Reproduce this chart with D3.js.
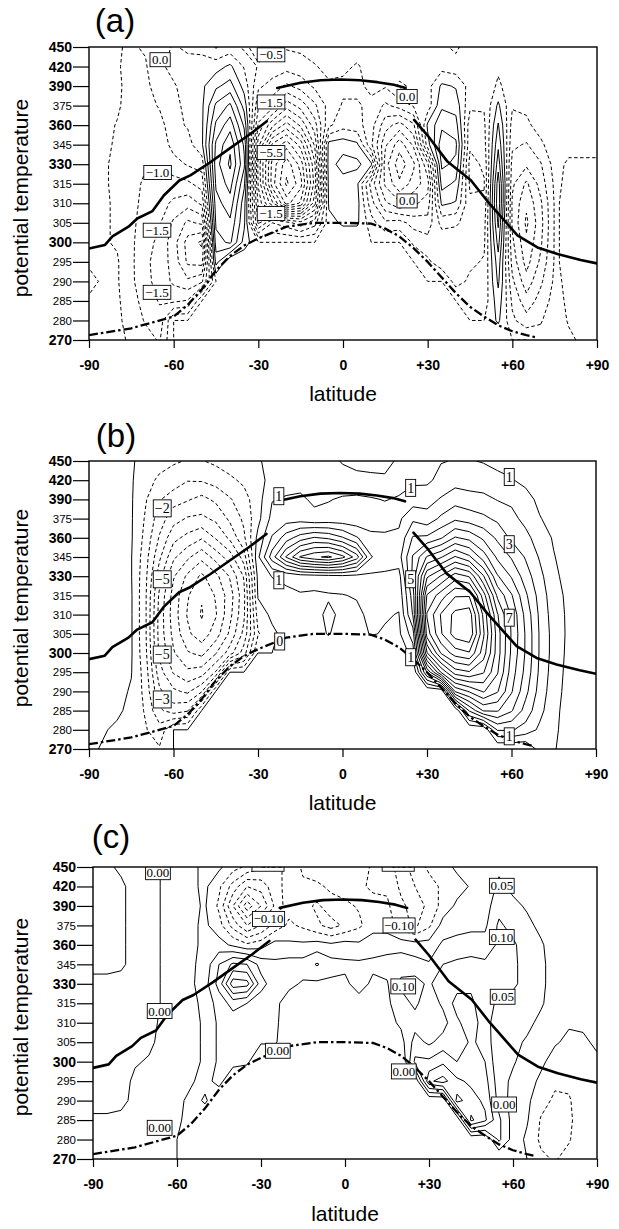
<!DOCTYPE html>
<html>
<head>
<meta charset="utf-8">
<script src="https://cdn.jsdelivr.net/npm/d3@7/dist/d3.min.js"></script>
<style>
  body { margin: 0; background: #fff; }
  svg { display: block; }
</style>
</head>
<body>
<svg id="fig" width="619" height="1229"></svg>
<script>
// === Axes ===
const levels = [270, 280, 285, 290, 295, 300, 305, 310, 315, 330, 345, 360, 375, 390, 420, 450];
const boldLevels = [270, 300, 330, 360, 390, 420, 450];
const lats = [-90, -85, -80, -75, -70, -65, -60, -55, -50, -45, -40, -35, -30, -25, -20, -15, -10, -5,
  0, 5, 10, 15, 20, 25, 30, 35, 40, 45, 50, 55, 60, 65, 70, 75, 80, 85, 90];
const latTicks = [-90, -60, -30, 0, 30, 60, 90];
const latTickText = ["-90", "-60", "-30", "0", "+30", "+60", "+90"];

// === Reference lines (same in all panels) ===
const tropoSouthLat = [-90, -84.4, -81.7, -76, -72.9, -67.5, -63.5, -58, -54.1, -47, -40, -33, -27];
const tropoSouthTh  = [298.4, 299.3, 301.5, 304, 306.1, 308, 312, 317.5, 321.4, 331.5, 342.3, 353, 363];
const tropoMidLat = [-23.3, -15, -7.9, -0.8, 6, 12.2, 18, 22.2];
const tropoMidTh  = [388.5, 395, 399, 400, 399, 396, 392, 388.5];
const tropoNorthLat = [25.2, 30, 37, 45.3, 51.2, 61.8, 68.9, 76, 84.2, 90];
const tropoNorthTh  = [364, 352, 332, 317.7, 310.5, 301.8, 298.7, 297, 295.5, 294.6];
const surfLat = [-90, -75, -60, -55, -50, -45, -40, -35, -30, -20, -10, 0, 10, 15, 20, 25, 30, 35, 40, 45, 50, 55, 60, 65, 68];
const surfTh  = [272.5, 276, 281, 284, 288, 292.8, 296.5, 299.2, 301, 304, 305, 305, 304.8, 303.5, 301.5, 298.5,
  295, 291, 287, 283.5, 281, 277.5, 274.5, 272.5, 271.5];

// === Fields: one column per latitude, values from 270 K (first) up to 450 K (last); 0 under ground ===
const fieldA = [
  [-0.3,-0.35,-0.45,-0.6,-0.45,-0.45,-0.4,-0.4,-0.4,-0.4,-0.35,-0.35,-0.35,-0.35,-0.3,-0.3],
  [-0.3,-0.35,-0.4,-0.45,-0.45,-0.45,-0.45,-0.45,-0.45,-0.45,-0.4,-0.4,-0.4,-0.4,-0.35,-0.35],
  [-0.35,-0.4,-0.42,-0.45,-0.45,-0.55,-0.55,-0.55,-0.58,-0.58,-0.56,-0.52,-0.45,-0.45,-0.47,-0.47],
  [-0.6,-0.7,-0.8,-0.9,-0.9,-0.9,-0.85,-0.8,-0.8,-0.75,-0.7,-0.7,-0.65,-0.6,-0.6,-0.55],
  [-0.8,-1.05,-1.2,-1.35,-1.4,-1.35,-1.3,-1.2,-1.1,-0.95,-0.9,-0.8,-0.7,-0.6,-0.55,-0.45],
  [-1.05,-1.3,-1.55,-1.7,-1.7,-1.6,-1.45,-1.3,-1.15,-0.95,-0.85,-0.7,-0.45,-0.3,-0.1,-0.2],
  [0,0,-1.6,-2.1,-2.2,-2.3,-2.1,-1.6,-1.2,-0.7,-0.3,-0.15,-0.1,-0.05,0.15,0.05],
  [0,0,-1.45,-2.4,-3.1,-3.2,-2.6,-1.8,-1.1,-0.45,-0.2,0.05,0.1,0.2,0.2,-0.1],
  [0,0,0,-2.1,-3.2,-3.6,-2.4,-1.4,-0.8,-0.3,0.4,0.4,0.4,0.4,0.3,-0.2],
  [0,0,0,0,1.2,1.8,2.1,2.3,2.6,2.8,2.6,2.1,1.6,0.9,0.3,-0.55],
  [0,0,0,0,0,2.1,2.4,2.8,3.2,3.6,3.4,2.8,2.1,1.2,0.6,-0.3],
  [0,0,0,0,0,0.8,1.1,1.2,1.6,2.1,1.9,1.4,0.8,0.3,-0.05,-0.6],
  [0,0,0,0,0,0,-2.1,-2.6,-3.1,-3.2,-2.8,-2.1,-1.4,-0.9,-0.55,-0.3],
  [0,0,0,0,0,0,-1.0,-4.4,-5.8,-5.7,-5.1,-3.4,-1.8,-1.2,-0.7,-0.4],
  [0,0,0,0,0,0,-1.3,-6.2,-7.1,-6.8,-5.8,-4.2,-2.8,-1.6,-0.8,-0.45],
  [0,0,0,0,0,0,-1.8,-5.4,-6.2,-5.8,-4.8,-3.4,-2.3,-1.3,-0.7,-0.4],
  [0,0,0,0,0,0,-1.2,-3.2,-3.8,-3.6,-2.9,-2.2,-1.6,-0.9,-0.55,-0.2],
  [0,0,0,0,0,0,0.3,0.6,0.7,0.8,0.7,-0.6,-0.8,-0.6,-0.3,-0.1],
  [0,0,0,0,0,0,0.6,0.7,0.8,1.2,0.8,-0.2,-0.45,-0.6,-0.4,-0.2],
  [0,0,0,0,0,0,0.6,0.7,0.6,1.15,0.6,-0.3,-0.45,-0.6,-0.55,-0.3],
  [0,0,0,0,0,0,-0.3,-0.8,-1.2,0.6,-0.9,-0.8,-0.6,-0.4,-0.3,-0.2],
  [0,0,0,0,0,0,-0.9,-1.9,-2.6,-2.8,-2.4,-1.8,-1.1,-0.45,-0.3,-0.2],
  [0,0,0,0,0,0,-0.8,-2.4,-3.4,-3.8,-3.3,-2.2,-0.8,0.1,-0.3,-0.3],
  [0,0,0,0,0,-0.6,-1.2,-2.1,-2.8,-3.1,-2.4,-1.6,-0.45,-0.1,-0.1,-0.2],
  [0,0,0,0,-0.4,-0.8,-1.3,-1.8,-2.2,-1.6,0.3,0.6,-0.3,-0.2,-0.05,-0.1],
  [0,0,0,0,-0.8,-0.9,-0.3,0.6,1.2,1.6,1.8,1.4,0.9,0.6,-0.2,-0.4],
  [0,0,0,-0.7,-0.9,-0.9,-0.4,0.45,0.9,1.4,1.6,1.2,0.8,0.45,-0.3,-0.6],
  [0,0,-0.3,-0.4,-0.6,-0.6,-0.8,-0.9,-1.1,-1.2,-0.9,-0.8,-0.4,-0.2,-0.1,-0.2],
  [0,0,-0.3,-0.4,-0.45,-0.6,-0.7,-0.9,-1.05,-0.9,-0.7,-0.6,-0.45,-0.4,-0.3,-0.3],
  [0,0.6,0.8,1.1,1.3,1.7,2.1,2.4,2.3,1.8,1.4,1.05,0.6,0.1,-0.1,-0.2],
  [0,-0.4,-0.6,-0.9,-1.2,-1.4,-1.6,-1.6,-1.4,-1.2,-0.9,-0.7,-0.45,-0.3,-0.2,-0.3],
  [0,-0.8,-1.3,-1.8,-2.2,-2.4,-2.6,-2.4,-2.1,-1.4,-1.05,-0.6,-0.4,-0.3,-0.2,-0.1],
  [-0.3,-0.55,-0.8,-1.1,-1.4,-1.6,-1.7,-1.6,-1.3,-1.05,-0.6,-0.3,-0.2,-0.1,-0.1,-0.05],
  [-0.1,-0.2,-0.3,-0.4,-0.45,-0.45,-0.45,-0.45,-0.4,-0.3,-0.2,-0.2,-0.2,-0.2,-0.15,-0.1],
  [-0.4,-0.55,-0.6,-0.6,-0.6,-0.6,-0.6,-0.6,-0.6,-0.6,-0.3,-0.2,-0.2,-0.2,-0.2,-0.2],
  [-0.6,-0.6,-0.6,-0.6,-0.6,-0.6,-0.6,-0.6,-0.6,-0.6,-0.3,-0.2,-0.2,-0.2,-0.2,-0.2],
  [-0.6,-0.6,-0.6,-0.6,-0.6,-0.6,-0.6,-0.6,-0.6,-0.6,-0.3,-0.2,-0.2,-0.2,-0.2,-0.2]
];

const fieldB = [
  [0.2,0.2,0.3,0.3,0.3,0.3,0.3,0.3,0.3,0.3,0.3,0.3,0.3,0.3,0.3,0.3],
  [-0.1,0.1,0.3,0.3,0.3,0.3,0.3,0.3,0.3,0.3,0.3,0.3,0.3,0.3,0.3,0.3],
  [-0.3,-0.2,0.2,0.3,0.3,0.3,0.3,0.3,0.3,0.3,0.3,0.3,0.3,0.3,0.3,0.3],
  [-0.5,-0.5,-0.3,-0.1,0.05,0.1,0.1,0.1,0.1,0.05,0.05,0.1,0.1,0.1,0.1,0.1],
  [-0.6,-0.9,-1.1,-1.3,-1.45,-1.7,-1.8,-1.8,-1.8,-1.7,-1.55,-1.3,-1.1,-0.9,-0.6,-0.3],
  [-0.9,-1.6,-2.8,-3.8,-4.6,-5.2,-5.4,-5.4,-5.2,-4.6,-3.8,-3.1,-2.5,-1.9,-1.2,-0.6],
  [0,0,-3.5,-4.8,-6.1,-6.9,-7.3,-7.5,-7.4,-6.9,-5.8,-4.7,-3.6,-2.6,-1.4,-0.9],
  [0,0,-3.1,-5.2,-6.8,-7.9,-8.8,-9.1,-8.9,-8.2,-6.8,-5.3,-4.1,-2.9,-1.95,-1.05],
  [0,0,0,-4.1,-6.5,-8.3,-9.6,-10.1,-9.9,-9.2,-7.7,-5.9,-4.2,-3.3,-1.9,-1.05],
  [0,0,0,0,-4.9,-7.1,-8.5,-9.1,-8.9,-8.3,-6.6,-4.9,-3.8,-2.8,-1.6,-0.8],
  [0,0,0,0,0,-5.5,-6.8,-7.3,-7.5,-6.9,-5.5,-3.8,-2.8,-2.1,-1.2,-0.5],
  [0,0,0,0,0,-3.5,-4.7,-5.2,-5.3,-4.9,-3.5,-2.2,-1.8,-1.4,-0.8,-0.3],
  [0,0,0,0,0,0,-1.1,-0.5,0.1,0.3,0.8,0.3,-0.3,-0.4,-0.3,-0.1],
  [0,0,0,0,0,0,-0.2,0.2,0.3,1.05,3.5,2.1,1.3,0.95,0.3,0.3],
  [0,0,0,0,0,0,0.3,0.6,0.8,1.2,6.1,3.5,1.5,1.1,0.6,0.5],
  [0,0,0,0,0,0,0.5,0.7,0.9,1.5,8.1,4.5,1.5,1.1,0.8,0.6],
  [0,0,0,0,0,0,0.4,0.7,0.8,1.6,8.8,5.1,1.15,0.9,0.8,0.6],
  [0,0,0,0,0,0,1.1,1.2,0.9,1.7,9.2,4.8,1.3,0.95,0.7,0.4],
  [0,0,0,0,0,0,0.4,0.8,0.95,1.8,8.3,4.1,1.3,1.1,0.5,-0.1],
  [0,0,0,0,0,0,0.3,0.7,1.1,1.7,6.5,3.1,1.3,1.2,0.3,-0.3],
  [0,0,0,0,0,0,1.1,1.3,1.2,1.8,3.1,2.3,1.4,1.1,0.2,-0.3],
  [0,0,0,0,0,0,0.9,1.1,1.2,1.9,2.3,2.2,1.5,0.95,0.1,-0.2],
  [0,0,0,0,0,0,0.8,0.95,1.3,1.6,2.6,2.2,1.8,1.1,0.6,0.1],
  [0,0,0,0,0,1.5,2.5,4.1,4.5,5.3,5.1,4.1,2.8,1.5,0.8,0.6],
  [0,0,0,0,5.1,9.9,12.5,13.1,12.1,9.8,7.1,4.2,2.4,1.6,0.8,0.5],
  [0,0,0,0,9.1,13.1,14.9,15.1,13.5,11.1,7.9,4.9,3.2,2.1,1.3,0.95],
  [0,0,0,7.1,11.5,14.5,16.5,16.3,14.9,12.5,9.1,6.1,3.8,2.6,1.6,1.05],
  [0,0,4.1,8.1,11.9,14.9,16.9,16.6,14.9,11.9,8.2,5.7,3.5,2.4,1.5,1.05],
  [0,0,6.1,9.1,11.1,12.5,13.2,12.8,11.5,9.1,6.5,4.8,3.2,2.3,1.4,0.95],
  [0,3.1,6.1,8.1,9.1,9.5,9.5,9.1,7.8,6.1,4.8,3.8,2.8,1.95,1.2,0.8],
  [0,3.1,5.1,6.1,6.5,6.8,6.9,6.8,6.1,4.9,3.9,2.8,2.3,1.8,1.05,0.7],
  [0,2.6,3.6,4.3,4.7,4.9,4.9,4.7,4.2,3.5,2.9,2.3,1.7,1.3,0.8,0.5],
  [1.4,1.8,2.3,2.6,2.8,2.9,2.9,2.8,2.6,2.3,1.9,1.5,1.05,0.8,0.6,0.3],
  [1.1,1.2,1.3,1.4,1.5,1.6,1.6,1.5,1.4,1.2,1.05,0.9,0.7,0.5,0.4,0.2],
  [0.5,0.6,0.6,0.7,0.75,0.8,0.85,0.85,0.8,0.7,0.6,0.5,0.4,0.3,0.2,0.1],
  [0.3,0.3,0.35,0.4,0.4,0.4,0.4,0.4,0.4,0.35,0.3,0.25,0.2,0.15,0.1,0.1],
  [0.2,0.2,0.2,0.2,0.2,0.2,0.2,0.2,0.2,0.2,0.2,0.15,0.1,0.1,0.1,0.1]
];

const fieldC = [
  [-0.02,-0.02,-0.01,0.02,0.02,0.02,0.02,0.02,0.02,0.04,0.06,0.06,0.06,0.06,0.06,0.06],
  [-0.02,-0.02,-0.01,0.02,0.02,0.02,0.02,0.02,0.02,0.04,0.06,0.06,0.06,0.06,0.06,0.06],
  [-0.02,-0.02,-0.01,0.01,0.02,0.02,0.02,0.02,0.02,0.03,0.06,0.06,0.06,0.06,0.06,0.04],
  [-0.02,-0.02,-0.02,-0.01,-0.01,0.005,0.02,0.02,0.02,0.02,0.03,0.03,0.03,0.03,0.03,0.03],
  [-0.03,-0.03,-0.02,-0.02,-0.01,-0.005,0.01,0.015,0.02,0.02,0.02,0.02,0.02,0.02,0.02,0.02],
  [-0.02,-0.02,-0.02,-0.02,-0.02,-0.02,-0.015,-0.01,-0.005,-0.005,-0.005,-0.005,-0.005,-0.005,-0.005,-0.005],
  [0,0,-0.02,-0.02,-0.02,-0.02,-0.02,-0.02,-0.02,-0.02,-0.02,-0.02,-0.02,-0.02,-0.02,-0.02],
  [0,0,0.04,0.02,-0.01,-0.02,-0.02,-0.02,-0.02,-0.01,-0.01,-0.01,-0.01,-0.01,-0.01,-0.01],
  [0,0,0,0.06,0.03,0.01,0.01,0.01,0.02,0.03,0.02,0.01,0.01,0.005,0.01,0.01],
  [0,0,0,0,0.07,0.06,0.06,0.06,0.07,0.12,0.1,0.02,-0.03,-0.06,-0.04,0.01],
  [0,0,0,0,0,0.07,0.06,0.07,0.12,0.28,0.16,-0.01,-0.12,-0.2,-0.12,-0.03],
  [0,0,0,0,0,0.06,0.06,0.06,0.1,0.27,0.15,-0.04,-0.2,-0.33,-0.2,-0.06],
  [0,0,0,0,0,0,0.055,0.06,0.07,0.12,0.08,-0.02,-0.15,-0.25,-0.18,-0.09],
  [0,0,0,0,0,0,0.055,0.06,0.06,0.07,0.06,0.02,-0.08,-0.14,-0.12,-0.11],
  [0,0,0,0,0,0,0.02,0.02,0.03,0.06,0.07,0.01,-0.04,-0.07,-0.08,-0.09],
  [0,0,0,0,0,0,0.01,0.02,0.02,0.045,0.07,0.01,-0.06,-0.08,-0.06,-0.04],
  [0,0,0,0,0,0,0.01,0.02,0.02,0.04,0.105,0.02,-0.09,-0.11,-0.06,-0.02],
  [0,0,0,0,0,0,0.01,0.01,0.02,0.04,0.07,0.01,-0.12,-0.07,-0.04,-0.02],
  [0,0,0,0,0,0,0.01,0.01,0.02,0.04,0.06,0.02,-0.09,-0.06,-0.03,-0.01],
  [0,0,0,0,0,0,0.01,0.02,0.03,0.07,0.06,0.01,-0.06,-0.045,-0.04,-0.02],
  [0,0,0,0,0,0,0.01,0.02,0.03,0.04,0.06,0.03,-0.02,-0.03,-0.06,-0.06],
  [0,0,0,0,0,0,0.02,0.03,0.04,0.045,0.07,0.03,-0.02,-0.04,-0.06,-0.08],
  [0,0,0,0,0,0,0.03,0.06,0.08,0.11,0.08,0.03,-0.08,-0.09,-0.11,-0.12],
  [0,0,0,0,0,0.16,0.12,0.08,0.11,0.12,0.07,0.02,-0.11,-0.12,-0.1,-0.08],
  [0,0,0,0,0.24,0.16,0.09,0.06,0.07,0.09,0.055,0.02,-0.06,-0.09,-0.07,-0.04],
  [0,0,0,0,0.27,0.19,0.12,0.08,0.11,0.14,0.1,0.06,0.02,-0.03,-0.04,-0.02],
  [0,0,0,0.27,0.21,0.15,0.11,0.14,0.17,0.13,0.11,0.07,0.03,0.01,-0.02,0.01],
  [0,0,0.26,0.22,0.19,0.17,0.16,0.18,0.16,0.14,0.12,0.07,0.04,0.02,0.005,0.02],
  [0,0,0.21,0.19,0.17,0.15,0.13,0.12,0.12,0.13,0.11,0.07,0.04,0.03,0.02,0.03],
  [0,0.11,0.11,0.08,0.07,0.06,0.06,0.07,0.09,0.11,0.12,0.11,0.11,0.08,0.06,0.04],
  [0,0.03,0.03,0.03,0.04,0.055,0.06,0.07,0.08,0.11,0.11,0.11,0.08,0.06,0.04,0.03],
  [0,-0.01,0.005,0.01,0.02,0.03,0.045,0.06,0.07,0.08,0.08,0.07,0.06,0.045,0.03,0.02],
  [-0.04,-0.06,-0.055,-0.03,-0.01,0.01,0.03,0.04,0.055,0.06,0.06,0.055,0.04,0.03,0.02,0.01],
  [-0.055,-0.07,-0.07,-0.06,-0.04,-0.02,0.005,0.02,0.03,0.03,0.03,0.03,0.03,0.02,0.01,0.01],
  [-0.03,-0.055,-0.06,-0.055,-0.04,-0.02,-0.01,0.005,0.01,0.01,0.01,0.01,0.01,0.01,0.01,0.01],
  [-0.01,-0.01,-0.02,-0.02,-0.01,-0.01,-0.005,0.005,0.005,0.005,0.005,0.005,0.005,0.005,0.005,0.005],
  [-0.005,-0.005,-0.01,-0.01,-0.005,-0.005,0.005,0.005,0.005,0.005,0.005,0.005,0.005,0.005,0.005,0.005]
];

// contour levels
const levelsA = d3.range(-14, 9).map(k => k / 2);
const levelsB = d3.range(-11, 18);
const levelsC = d3.range(-7, 8).map(k => k / 20);

// boxed contour labels
const labelsA = [
  {lat: -64.8, th: 430.5, text: "0.0"}, {lat: -25.5, th: 438, text: "\u22120.5"},
  {lat: -25.5, th: 377.8, text: "\u22121.5"}, {lat: -65.7, th: 323.6, text: "\u22121.0"},
  {lat: -25.5, th: 339, text: "\u22125.5"}, {lat: -25.5, th: 307.4, text: "\u22121.5"},
  {lat: -65.9, th: 303.1, text: "\u22121.5"}, {lat: -65.9, th: 287.2, text: "\u22121.5"},
  {lat: 22.7, th: 382, text: "0.0"}, {lat: 22.7, th: 310.6, text: "0.0"}
];
const labelsB = [
  {lat: -22.6, th: 395, text: "1"}, {lat: -64, th: 383, text: "\u22122"},
  {lat: -64, th: 327.6, text: "\u22125"}, {lat: -22.6, th: 326.8, text: "1"},
  {lat: -22.3, th: 303, text: "0"}, {lat: -64, th: 299.6, text: "\u22125"},
  {lat: -64, th: 287.9, text: "\u22123"}, {lat: 24.2, th: 408, text: "1"},
  {lat: 59.2, th: 425, text: "1"}, {lat: 59.2, th: 355, text: "3"},
  {lat: 24.2, th: 327.6, text: "5"}, {lat: 59.2, th: 309.2, text: "7"},
  {lat: 24.2, th: 298.9, text: "1"}, {lat: 59.2, th: 276.6, text: "1"}
];
const labelsC = [
  {lat: -66.8, th: 442, text: "0.00"}, {lat: -27.5, th: 455, text: "\u22120.10"},
  {lat: -27.3, th: 380, text: "\u22120.10"}, {lat: -66.2, th: 313, text: "0.00"},
  {lat: -24, th: 302.8, text: "0.00"}, {lat: -66.2, th: 283, text: "0.00"},
  {lat: 19, th: 455, text: "\u22120.10"}, {lat: 56, th: 421, text: "0.05"},
  {lat: 19.3, th: 375, text: "\u22120.10"}, {lat: 56, th: 366, text: "0.10"},
  {lat: 20.8, th: 328, text: "0.10"}, {lat: 56.3, th: 320, text: "0.05"},
  {lat: 21, th: 297.5, text: "0.00"}, {lat: 56.8, th: 289, text: "0.00"}
];

const panels = [
  {id: "a", field: fieldA, thresholds: levelsA, zeroDashed: true, labels: labelsA,
   left: 89, right: 597, top: 47, bottom: 340, tagX: 115, tagY: 32, ylabY: 198, latY: 401,
   labFont: 13, labPad: 2, labH: 14},
  {id: "b", field: fieldB, thresholds: levelsB, zeroDashed: false, labels: labelsB,
   left: 89, right: 596, top: 461, bottom: 749, tagX: 116, tagY: 447, ylabY: 608, latY: 810,
   labFont: 14, labPad: 1.5, labH: 17},
  {id: "c", field: fieldC, thresholds: levelsC, zeroDashed: false, labels: labelsC,
   left: 93, right: 597, top: 867, bottom: 1159, tagX: 111, tagY: 848, ylabY: 1017, latY: 1221,
   labFont: 13, labPad: 1, labH: 15}
];

const SANS = "'Liberation Sans', Arial, Helvetica, sans-serif";
const SERIF = "'Liberation Serif', 'Times New Roman', serif";
const svg = d3.select("#fig");

panels.forEach(p => {
  const g = svg.append("g");
  const x = d3.scaleLinear().domain([-90, 90]).range([p.left, p.right]);
  const step = (p.bottom - p.top) / (levels.length - 1);
  const y = d3.scaleLinear().domain(levels).range(levels.map((d, i) => p.bottom - i * step));

  // grid coordinates of d3.contours -> page
  const n = lats.length, m = levels.length;
  const gx = d3.scaleLinear().domain([0.5, n - 0.5]).range([x(lats[0]), x(lats[n - 1])]);
  const gy = d3.scaleLinear().domain([0.5, m - 0.5]).range([y(levels[m - 1]), y(levels[0])]);

  svg.append("clipPath").attr("id", "clip-" + p.id)
    .append("rect")
    .attr("x", p.left).attr("y", p.top)
    .attr("width", p.right - p.left).attr("height", p.bottom - p.top);

  const grid = [];
  for (let r = 0; r < m; r++)
    for (let j = 0; j < n; j++) grid.push(p.field[j][m - 1 - r]);

  const contours = d3.contours().size([n, m]).thresholds(p.thresholds)(grid);
  const path = d3.geoPath(d3.geoTransform({
    point(px, py) { this.stream.point(gx(px), gy(py)); }
  }));

  const plot = g.append("g").attr("clip-path", `url(#clip-${p.id})`);

  plot.selectAll(".iso")
    .data(contours)
    .join("path")
    .attr("class", "iso")
    .attr("d", path)
    .attr("fill", "none")
    .attr("stroke", "#000")
    .attr("stroke-width", 1)
    .attr("stroke-linejoin", "round")
    .attr("stroke-dasharray", d => (p.zeroDashed ? d.value <= 0 : d.value < -1e-9) ? "3.5,2.5" : null);

  // tropopause and surface lines
  const line = d3.line().x(d => x(d[0])).y(d => y(d[1]));
  [[tropoSouthLat, tropoSouthTh], [tropoMidLat, tropoMidTh], [tropoNorthLat, tropoNorthTh]].forEach(([la, th]) => {
    plot.append("path")
      .attr("d", line(d3.zip(la, th)))
      .attr("fill", "none").attr("stroke", "#000").attr("stroke-width", 2.6)
      .attr("stroke-linejoin", "round").attr("stroke-linecap", "round");
  });
  plot.append("path")
    .attr("d", line(d3.zip(surfLat, surfTh)))
    .attr("fill", "none").attr("stroke", "#000").attr("stroke-width", 2.3)
    .attr("stroke-dasharray", "9,3,2.5,3");

  // boxed labels
  const lab = plot.append("g");
  p.labels.forEach(L => {
    const cx = x(L.lat), cy = y(L.th);
    const t = lab.append("text")
      .attr("x", cx).attr("y", cy).attr("dy", "0.35em")
      .attr("text-anchor", "middle")
      .attr("font-family", SERIF).attr("font-size", p.labFont)
      .attr("fill", "#000")
      .text(L.text);
    const w = t.node().getComputedTextLength();
    lab.insert("rect", () => t.node())
      .attr("x", cx - w / 2 - p.labPad).attr("y", cy - p.labH / 2)
      .attr("width", w + 2 * p.labPad).attr("height", p.labH)
      .attr("fill", "#fff").attr("stroke", "#000").attr("stroke-width", 0.9);
  });

  // frame
  g.append("rect")
    .attr("x", p.left).attr("y", p.top)
    .attr("width", p.right - p.left).attr("height", p.bottom - p.top)
    .attr("fill", "none").attr("stroke", "#000").attr("stroke-width", 1.4);

  // axes
  const ya = g.append("g")
    .attr("transform", `translate(${p.left},0)`)
    .call(d3.axisLeft(y).tickValues(levels).tickSize(16).tickPadding(1).tickFormat(d3.format("d")));
  ya.select(".domain").remove();
  ya.selectAll("line").attr("stroke", "#000").attr("stroke-width", 1.2);
  ya.selectAll("text")
    .attr("fill", "#000")
    .attr("font-family", SANS)
    .attr("font-size", d => boldLevels.includes(d) ? 14 : 11.5)
    .attr("font-weight", d => boldLevels.includes(d) ? "bold" : "normal");

  const xa = g.append("g")
    .attr("transform", `translate(0,${p.bottom})`)
    .call(d3.axisBottom(x).tickValues(latTicks).tickSize(8).tickPadding(12)
      .tickFormat((d, i) => latTickText[i]));
  xa.select(".domain").remove();
  xa.selectAll("line").attr("stroke", "#000").attr("stroke-width", 1.2);
  xa.selectAll("text")
    .attr("fill", "#000")
    .attr("font-family", SANS).attr("font-size", 14).attr("font-weight", "bold");

  // titles
  g.append("text")
    .attr("x", p.tagX).attr("y", p.tagY)
    .attr("text-anchor", "middle")
    .attr("font-family", SANS).attr("font-size", 33)
    .text(`(${p.id})`);

  g.append("text")
    .attr("transform", `translate(28,${p.ylabY}) rotate(-90)`)
    .attr("text-anchor", "middle")
    .attr("font-family", SANS).attr("font-size", 21)
    .text("potential temperature");

  g.append("text")
    .attr("x", x(0)).attr("y", p.latY)
    .attr("text-anchor", "middle")
    .attr("font-family", SANS).attr("font-size", 21)
    .text("latitude");
});
</script>
</body>
</html>
